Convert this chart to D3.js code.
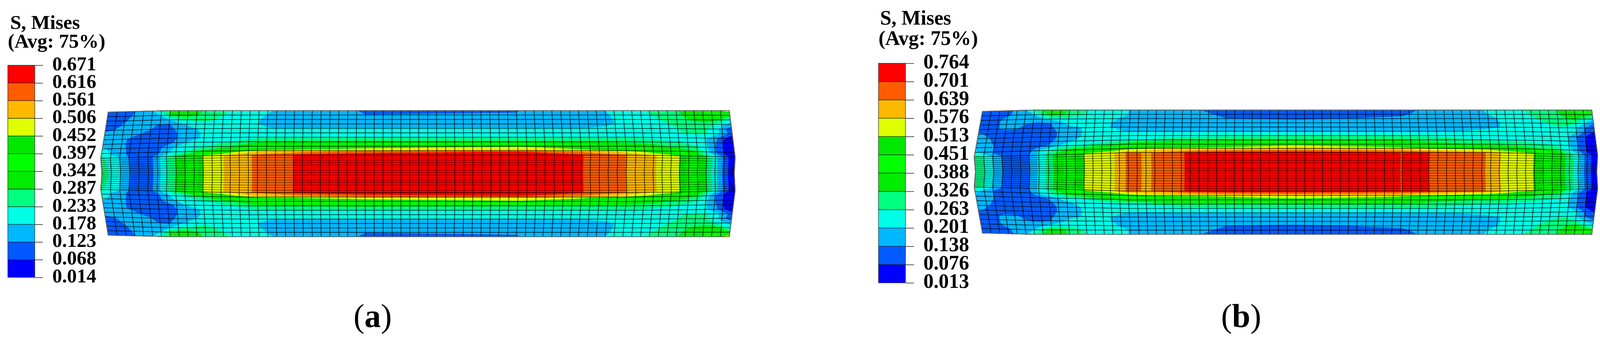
<!DOCTYPE html>
<html><head><meta charset="utf-8">
<script src="https://cdn.jsdelivr.net/npm/d3@7"></script>
<style>html,body{margin:0;padding:0;background:#fff}svg{display:block}
text{font-family:"Liberation Serif","Times New Roman",serif;fill:#000}
</style></head><body><svg id="c" width="4115" height="878"></svg>
<script>
// ---- legend values -------------------------------------------------------
const levelsA = [0.014,0.068,0.123,0.178,0.233,0.287,0.342,0.397,0.452,0.506,0.561,0.616,0.671];
const levelsB = [0.013,0.076,0.138,0.201,0.263,0.326,0.388,0.451,0.513,0.576,0.639,0.701,0.764];
const bandColors = ["#0000ff","#005aff","#00b8ff","#00ffe6","#00ff80","#00ec00","#00ff00","#00e800","#e0ff00","#ffb900","#ff5c00","#ff0000"];
const titleLines = ["S, Mises","(Avg: 75%)"];
// ---- mesh size: 70 elements long, 35 through the depth --------------------
const meshCols = 70, meshRows = 35, coreRowStart = 10, coreRowEnd = 25;
// rows (top half) at which the contour field was read; the lower half mirrors it
const fieldRows = [0,1,2,3,4,5,6,7,8,8.8,9.3,10,17.5];
// ---- Panel (a): field, in legend-band units (0..12) ---
const fieldColsA = [0,1,2,3,4,5,6,7,8,9,10.9,11.1,13,14,16.3,16.5,18.5,20.9,21.1,28,29,46,47,53.1,53.3,56,57.9,58.1,60,61.3,63.9,64.1,66,67,68,69,69.5,70];
const fieldA = [
[1.2,1.4,1.6,1.9,2.5,3.0,4.0,5.0,6.0,6.0,4.9,4.8,4.2,3.9,3.3,3.3,3.0,2.8,2.8,2.0,1.9,1.9,2.1,2.6,2.6,3.0,3.4,3.4,3.9,4.2,4.9,5.0,5.8,6.2,7.0,8.0,8.5,9.0],
[1.2,1.4,1.7,2.1,2.3,2.6,3.0,5.0,5.6,5.5,4.7,4.6,4.0,3.7,3.2,3.2,2.9,2.6,2.6,2.1,2.0,2.1,2.2,2.6,2.6,2.9,3.3,3.3,3.7,4.0,4.7,4.8,5.5,5.8,6.0,6.0,5.8,5.5],
[1.3,1.5,1.9,2.2,2.4,2.5,2.7,2.95,3.5,4.1,4.4,4.4,3.7,3.5,3.1,3.1,2.8,2.6,2.6,2.4,2.4,2.4,2.4,2.6,2.6,2.85,3.2,3.2,3.5,3.8,4.5,4.6,5.2,5.5,5.8,4.6,4.0,3.5],
[1.4,1.7,2.1,2.3,2.2,2.1,1.95,1.9,2.7,3.1,3.6,3.6,3.4,3.3,3.1,3.05,2.8,2.6,2.6,2.5,2.5,2.5,2.5,2.7,2.7,2.9,3.1,3.1,3.4,3.6,4.2,4.2,4.6,4.5,4.1,3.3,3.0,2.5],
[1.9,2.0,2.3,2.3,2.2,2.0,1.8,1.8,2.1,2.7,3.2,3.2,3.2,3.2,3.1,3.1,3.0,3.0,3.0,3.0,3.0,3.0,3.0,3.0,3.0,3.1,3.3,3.3,3.5,3.7,3.95,4.0,4.4,4.2,3.7,2.5,1.8,1.3],
[2.2,2.3,2.3,2.15,1.95,1.7,1.6,1.7,2.0,2.5,3.1,3.2,3.3,3.35,3.4,3.4,3.4,3.4,3.4,3.4,3.4,3.4,3.4,3.4,3.4,3.5,3.6,3.6,3.7,3.8,3.9,3.95,4.15,4.15,3.7,2.6,2.1,1.3],
[2.4,2.3,2.1,1.9,1.7,1.6,1.5,1.6,2.0,2.5,3.1,3.1,3.4,3.5,3.7,3.7,3.9,3.95,3.95,4.0,4.0,4.0,4.0,4.0,4.0,3.95,3.9,3.9,3.85,3.7,3.5,3.5,3.3,3.1,2.4,1.3,0.6,0.3],
[2.5,2.3,2.1,1.85,1.6,1.5,1.5,1.6,2.2,3.0,3.4,3.4,3.8,4.0,4.6,4.7,5.0,5.1,5.1,5.2,5.2,5.1,5.1,5.0,5.0,4.8,4.7,4.7,4.5,4.3,4.05,4.0,3.5,3.1,2.3,0.9,0.5,0.2],
[3.2,2.7,2.2,1.8,1.5,1.3,1.6,2.5,3.1,3.4,3.9,4.0,4.6,5.0,6.0,6.1,6.5,6.7,6.7,7.0,7.1,7.8,7.7,6.9,6.8,6.5,6.1,6.1,5.8,5.6,4.7,4.6,4.1,3.2,2.0,0.9,0.5,0.2],
[3.5,2.9,2.3,1.8,1.4,1.3,1.7,2.8,3.3,3.9,5.0,5.1,5.8,6.2,7.4,7.5,7.9,8.0,8.0,8.5,8.6,9.0,9.0,8.2,8.1,7.6,7.2,7.2,6.8,6.5,6.0,6.0,4.8,3.5,2.1,0.9,0.5,0.2],
[3.8,3.0,2.3,1.8,1.4,1.3,1.8,2.9,3.5,4.2,5.8,6.0,7.2,7.8,8.9,9.0,9.4,9.6,9.7,10.6,10.7,11.1,11.0,10.0,9.9,9.3,8.8,8.7,8.1,7.6,6.5,6.4,5.0,3.6,2.2,0.9,0.5,0.2],
[4.3,3.4,3.0,2.0,1.5,1.3,2.6,3.9,5.0,6.0,7.4,8.4,8.9,9.2,9.9,10.1,10.4,10.9,11.3,11.6,11.6,11.6,11.6,11.2,10.8,10.4,10.1,9.7,9.2,9.0,8.1,7.5,6.0,5.0,3.4,1.7,0.8,0.3],
[5.3,3.6,3.0,2.0,1.5,1.3,2.6,3.9,5.0,6.0,7.4,8.4,8.9,9.2,9.9,10.1,10.4,10.9,11.3,11.7,11.7,11.7,11.7,11.2,10.8,10.4,10.1,9.7,9.2,9.0,8.1,7.5,6.0,5.0,3.4,1.7,0.8,0.3]
];
// ---- Panel (b) -------------------------------------------------------------
const fieldColsB = [0,1,2,3,4,5,6,7,8,9,10,11.9,12.2,15.4,15.6,16.6,16.8,18.4,18.6,19.5,19.7,23.3,23.5,28,36,47.7,47.9,48.1,50.9,51.1,57.3,57.5,59,59.2,62.8,63,66,67,68,69,69.5,70];
const fieldB = [
[1.3,1.4,1.5,1.7,2.2,2.9,4,5,6,5.8,4.9,4,3.9,3.2,3.2,3.05,3,2.8,2.8,2.6,2.6,2.1,2.1,1.8,1.6,1.8,1.8,1.8,2.1,2.1,2.95,3,3.3,3.3,4.2,4.3,5,5.5,6.2,7.2,8,8.5],
[1.3,1.4,1.6,1.9,2.2,2.6,3,4.4,5.6,5.3,4.7,3.9,3.8,3.2,3.15,3.05,3,2.8,2.8,2.6,2.6,2.2,2.2,1.9,1.7,1.9,1.9,1.9,2.2,2.2,2.9,2.9,3.2,3.2,3.95,4,4.9,5.3,5.8,6,5.7,5.2],
[1.4,1.6,1.9,2.2,2.3,2.3,2.4,2.7,3.2,3.4,3.5,3.5,3.5,3.05,3,2.9,2.9,2.7,2.7,2.6,2.6,2.3,2.3,2,1.9,2.1,2.1,2.1,2.3,2.3,2.8,2.8,3,3.05,3.8,3.85,4.7,5,5,4,3.6,3.2],
[1.5,1.7,1.95,2.2,2.1,2.05,1.9,1.8,2,2.7,3.2,3.3,3.3,2.95,2.95,2.8,2.8,2.6,2.6,2.5,2.5,2.4,2.4,2.3,2.3,2.4,2.4,2.4,2.5,2.5,2.8,2.8,2.95,2.97,3.6,3.6,4.3,4.6,4,3,2.5,2.1],
[1.6,1.8,1.95,2.1,2.05,1.9,1.7,1.6,1.8,2.3,2.7,3.1,3.1,2.98,2.97,2.9,2.9,2.8,2.8,2.7,2.7,2.7,2.7,2.7,2.7,2.7,2.7,2.7,2.8,2.8,2.95,2.95,2.98,3,3.4,3.4,3.9,3.7,3.1,2,1.5,1.1],
[2.1,1.9,1.8,1.7,1.6,1.5,1.4,1.4,1.6,2.1,2.5,3.1,3.2,3.1,3.05,3,2.98,2.95,2.95,2.95,2.95,2.95,2.95,2.95,2.95,2.95,2.95,2.95,2.97,2.97,3.05,3.05,3.2,3.2,3.5,3.5,3.6,3.5,3.05,1.7,1.2,0.9],
[2.2,2.05,1.9,1.7,1.5,1.4,1.3,1.35,1.6,2.1,2.5,3.1,3.15,3.35,3.35,3.4,3.4,3.5,3.5,3.6,3.6,3.75,3.75,3.85,3.9,3.9,3.9,3.9,3.85,3.85,3.5,3.5,3.4,3.4,3.3,3.3,3.2,3,1.9,0.95,0.5,0.2],
[2.3,2.1,1.95,1.7,1.5,1.3,1.3,1.4,1.7,2.4,2.85,3.3,3.35,3.6,3.6,3.7,3.7,3.95,3.95,4.05,4.1,4.5,4.5,4.7,4.9,4.9,4.9,4.9,4.6,4.5,4,3.95,3.8,3.8,3.5,3.5,3.2,3,2,0.9,0.5,0.2],
[2.8,2.4,2,1.7,1.5,1.3,1.3,1.6,2.2,3,3.4,4,4.1,5,5.1,5.6,5.7,6.1,6.2,6.3,6.4,6.9,6.9,7.1,7.6,6.8,6.8,6.7,5.7,5.6,4.9,4.9,4.8,4.8,4.5,4.5,3.8,3.1,2,0.9,0.5,0.2],
[3.1,2.5,1.95,1.7,1.4,1.3,1.6,3,3.6,4.5,5,5.7,5.8,6.7,6.7,7,7,7.4,7.4,7.5,7.6,7.9,7.9,8.1,8.6,8.1,8,8,7.4,7.4,6.2,6.2,6,6,5.2,5.2,4.2,3.2,2.1,0.9,0.5,0.2],
[3.7,2.8,1.95,1.7,1.4,1.3,1.8,3.2,3.8,4.8,5.5,6.5,6.7,7.6,7.7,8,8.05,8.4,8.5,8.8,8.9,9.2,9.2,9.6,9.9,9.5,9.4,9.4,8.8,8.8,8,8,7.7,7.7,6.6,6.5,5,3.5,2.2,0.9,0.5,0.2],
[4.3,4,2.9,1.95,1.5,1.3,2,3.2,4.4,5.5,6.2,7.6,8.4,8.95,9.1,9.9,10.1,10.1,9.9,9.9,10.1,10.9,11.2,11.6,11.7,11.2,10.8,11.2,11.2,10.8,10.1,9.9,9.1,8.9,8.1,7.7,5.3,4.7,3.1,1.5,0.9,0.3],
[4.6,4,2.9,1.95,1.5,1.3,2,3.2,4.4,5.5,6.2,7.6,8.4,8.95,9.1,9.9,10.1,10.1,9.9,9.9,10.1,10.9,11.2,11.7,11.7,11.2,10.8,11.2,11.2,10.8,10.1,9.9,9.1,8.9,8.1,7.7,5.3,4.7,3.1,1.5,0.9,0.3]
];
// ---- measured displacement of the deformed mesh (px of picture per column) --
const bulgeColsA = [0,1,2,3,5,8,12,20,35,45,53,60,69,70];
const bulgeA     = [-19,-17,-16,-15,-12,-9,-7,-3,0,4,8,11,10,15];
const bulgeColsB = [0,1,3,6,8,11,17,25,35,45,53,60,69,70];
const bulgeB     = [-21,-19,-17,-14,-10,-8,-6,-3,0,4,8,10,11,15];
const squeezeColsA = [0,8,11,16,58,64,70], squeezeA = [8,3.3,1.7,0,0,1.7,5];
const squeezeColsB = [0,8,12,17,58,63,70], squeezeB = [11,6,3.5,0,0,2,6.5];
const edgeColsA = [0,7,70], edgeA = [4,0,0];
const edgeColsB = [0,6,70], edgeB = [3.5,0,0];
const captions = ["a","b"];

const svg = d3.select("#c");
const defs = svg.append("defs");
defs.append("filter").attr("id","soft").attr("x","-2%").attr("y","-5%").attr("width","104%").attr("height","110%")
  .append("feGaussianBlur").attr("stdDeviation",0.6);

function panel(cfg){
  const g = svg.append("g");
  // legend
  const yLegend = d3.scalePoint().domain(cfg.levels).range([cfg.legend.y1,cfg.legend.y0]);
  const bar = g.append("g");
  bar.selectAll("rect").data(bandColors).join("rect")
    .attr("x",cfg.legend.x).attr("width",cfg.legend.w)
    .attr("y",(d,i)=>yLegend(cfg.levels[i+1]))
    .attr("height",(d,i)=>yLegend(cfg.levels[i])-yLegend(cfg.levels[i+1]))
    .attr("fill",d=>d).attr("stroke","#222").attr("stroke-width",1.2);
  const axis = d3.axisRight(yLegend).tickValues(cfg.levels).tickFormat(d3.format(".3f")).tickSize(cfg.legend.tick).tickPadding(24);
  const ag = g.append("g").attr("transform",`translate(${cfg.legend.x+cfg.legend.w},0)`).call(axis);
  ag.select(".domain").remove();
  ag.selectAll("line").attr("stroke","#222").attr("stroke-width",1.5);
  ag.selectAll("text").attr("font-size",cfg.legend.font).attr("font-weight","bold")
    .attr("font-family",'"Liberation Serif",serif').attr("fill","#000").attr("dy",cfg.legend.dy);
  // title
  g.selectAll("text.title").data(titleLines).join("text").attr("class","title")
    .attr("x",(d,i)=>cfg.title.x[i]).attr("y",(d,i)=>cfg.title.y[i])
    .attr("font-size",cfg.title.font).attr("font-weight","bold").text(d=>d);
  // caption
  const cap = g.append("text").attr("x",cfg.cap.x).attr("y",cfg.cap.y).attr("font-size",84);
  cap.append("tspan").text("(");
  cap.append("tspan").attr("font-weight","bold").text(cfg.cap.t);
  cap.append("tspan").text(")");

  // mesh mapping: element column / row -> picture
  const xS = d3.scaleLinear().domain([0,meshCols]).range(cfg.mesh.x);
  const yS = d3.scaleLinear().domain([0,coreRowStart,coreRowEnd,meshRows]).range(cfg.mesh.y);
  const dxS = d3.scaleLinear().domain(cfg.bulgeCols).range(cfg.bulge);
  const wS = d3.scaleLinear().domain([0,coreRowStart,meshRows/2,coreRowEnd,meshRows]).range([0,1,0.85,1,0]);
  const inS = d3.scaleLinear().domain(cfg.squeezeCols).range(cfg.squeeze);
  const edS = d3.scaleLinear().domain(cfg.edgeCols).range(cfg.edge);
  const mid = meshRows/2;
  function scr(c,r){
    const rr = Math.min(r,meshRows-r);
    const v = rr<=coreRowStart ? edS(c)+(inS(c)-edS(c))*rr/coreRowStart : inS(c)*(mid-rr)/(mid-coreRowStart);
    return [xS(c)+dxS(c)*wS(r), yS(r)+(r<=mid? v : -v)];
  }
  // contour field
  const rowsAll = fieldRows.concat(fieldRows.slice(0,-1).reverse().map(r=>meshRows-r));
  const matrix = cfg.field.concat(cfg.field.slice(0,-1).reverse());
  const n = cfg.fieldCols.length, m = rowsAll.length;
  const stress = d3.scaleLinear().domain([0,12]).range([cfg.levels[0],cfg.levels[12]]);
  const values = matrix.flat().map(stress);
  const gx = d3.scaleLinear().domain(d3.range(n).map(i=>i+.5)).range(cfg.fieldCols).clamp(true);
  const gy = d3.scaleLinear().domain(d3.range(m).map(i=>i+.5)).range(rowsAll).clamp(true);
  const thresholds = cfg.levels.slice(0,12);
  const contours = d3.contours().size([n,m]).thresholds(thresholds)(values);
  const path = d3.geoPath(d3.geoTransform({point(x,y){const p=scr(gx(x),gy(y));this.stream.point(p[0],p[1]);}}));
  const body = g.append("g").attr("filter","url(#soft)");
  // outline of the deformed part
  const cols = d3.range(meshCols+1), rows = d3.range(meshRows+1);
  const line = d3.line();
  const outline = rows.map(r=>scr(0,r)).concat(cols.map(c=>scr(c,meshRows)),rows.slice().reverse().map(r=>scr(meshCols,r)),cols.slice().reverse().map(c=>scr(c,0)));
  const clipId = "clip"+cfg.cap.t;
  defs.append("clipPath").attr("id",clipId).append("path").attr("d",line(outline)+"Z");
  const bands = body.append("g").attr("clip-path",`url(#${clipId})`);
  bands.selectAll("path").data(contours).join("path")
    .attr("d",path).attr("fill",(d,i)=>bandColors[i]);
  // element edges
  const meshG = body.append("g").attr("fill","none").attr("stroke","#000");
  meshG.selectAll("path.cl").data(cols).join("path").attr("class","cl")
    .attr("stroke-opacity",0.72).attr("stroke-width",1.9).attr("d",c=>line(rows.map(r=>scr(c,r))));
  meshG.selectAll("path.rl").data(rows).join("path").attr("class","rl")
    .attr("stroke-opacity",r=>(r>coreRowStart&&r<coreRowEnd)?0.55:0.72)
    .attr("stroke-width",r=>(r>coreRowStart&&r<coreRowEnd)?1.6:1.9)
    .attr("d",r=>line(cols.map(c=>scr(c,r))));
  body.append("path").attr("d",line(outline)+"Z").attr("fill","none").attr("stroke","#666").attr("stroke-width",2);
}

panel({levels:levelsA, field:fieldA, fieldCols:fieldColsA,
  bulgeCols:bulgeColsA, bulge:bulgeA, squeezeCols:squeezeColsA, squeeze:squeezeA, edgeCols:edgeColsA, edge:edgeA,
  legend:{x:20,w:69,y0:167,y1:710,tick:21,font:50,dy:"0.24em"},
  title:{x:[26,20],y:[74,122],font:51},
  cap:{x:905,y:837,t:captions[0]},
  mesh:{x:[277,1867],y:[283,397,493,606]}});
panel({levels:levelsB, field:fieldB, fieldCols:fieldColsB,
  bulgeCols:bulgeColsB, bulge:bulgeB, squeezeCols:squeezeColsB, squeeze:squeezeB, edgeCols:edgeColsB, edge:edgeB,
  legend:{x:2249,w:69,y0:162,y1:724,tick:22,font:52,dy:"0.24em"},
  title:{x:[2253,2249],y:[63,115],font:52},
  cap:{x:3126,y:837,t:captions[1]},
  mesh:{x:[2515,4075],y:[281.7,390.7,489.3,600]}});
</script></body></html>
